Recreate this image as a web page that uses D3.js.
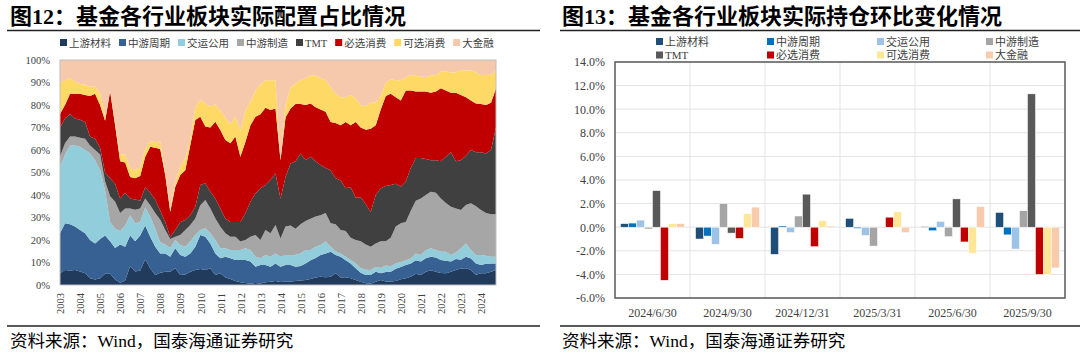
<!DOCTYPE html>
<html lang="zh">
<head>
<meta charset="UTF-8">
<title>基金各行业板块配置</title>
<script src="https://cdn.jsdelivr.net/npm/d3@7"></script>
<style>
    body { margin: 0; background: #fff; }
    svg text { font-family: 'Liberation Serif', 'Noto Sans CJK SC', serif; }
</style>
</head>
<body>
<script>
    var sectors = ['上游材料', '中游周期', '交运公用', '中游制造', 'TMT', '必选消费', '可选消费', '大金融'];
    var years = ['2003', '2004', '2005', '2006', '2007', '2008', '2009', '2010', '2011', '2012', '2013',
        '2014', '2015', '2016', '2017', '2018', '2019', '2020', '2021', '2022', '2023', '2024'];

    // 图12 季度占比 (%), 2003Q4 - 2025Q3
    var upstream = [5.2, 6.7, 6.4, 6.7, 6.0, 5.2, 3.0, 2.5, 3.0, 5.0, 5.0, 2.5, 1.0, 2.0,
        8.5, 6.0, 6.5, 11.5, 7.5, 4.5, 5.5, 5.9, 5.9, 7.4, 4.4, 4.7, 5.9, 6.7, 7.1, 6.7, 7.4, 4.4, 5.2, 3.3, 2.7, 1.8, 1.2, 0.9, 0.6, 0.9, 0.7, 1.2, 1.5, 1.8,
        1.3, 1.5, 1.6, 1.8, 2.0, 2.2, 2.7, 3.3, 3.7, 3.5, 3.7, 5.2, 3.3, 3.5, 3.0, 2.2, 1.5, 0.8, 0.6,
        1.5, 2.2, 1.6, 1.6, 1.8, 2.6, 3.0, 3.7, 5.0, 4.5, 5.9, 6.6, 5.9, 5.3, 5.2, 5.9, 6.7, 7.3, 7.4, 6.7, 4.6, 5.2, 5.2, 5.9, 6.7];
    var midCycle = [17.8, 20.7, 20.6, 19.3, 18.5, 17.8, 17.0, 16.0, 17.5, 17.0, 14.5, 14.0, 17.0, 15.0,
        13.5, 13.5, 15.5, 15.0, 14.0, 12.5, 8.5, 8.1, 6.7, 8.9, 8.9, 7.9, 8.1, 10.3, 15.1, 14.8, 11.1, 9.6, 6.7, 9.3, 9.2, 9.3, 9.9, 10.2, 9.8, 7.2, 8.2, 7.7, 6.6, 7.8,
        6.8, 7.4, 7.3, 6.3, 6.5, 7.4, 8.3, 8.7, 9.6, 10.5, 11.1, 8.1, 9.3, 7.5, 6.6, 5.2, 4.0, 3.7, 3.8,
        4.4, 3.0, 4.2, 4.3, 5.4, 5.4, 5.9, 5.9, 6.0, 5.9, 6.0, 6.0, 6.3, 5.8, 5.6, 4.5, 4.9, 3.9, 5.2, 5.1, 5.0, 3.7, 4.2, 3.7, 2.9];
    var transport = [29.6, 30.6, 35.0, 36.0, 37.0, 37.0, 38.5, 37.0, 30.5, 20.0, 8.5, 8.5, 6.0, 9.5,
        9.0, 8.0, 6.0, 8.0, 9.0, 8.0, 5.0, 4.0, 3.9, 3.7, 4.5, 4.4, 5.3, 5.2, 2.2, 3.7, 4.5, 6.0, 4.4, 3.7, 3.7, 4.5, 4.5, 5.2, 5.2, 4.5, 3.0, 4.4, 4.5, 4.4,
        4.5, 4.4, 4.1, 5.4, 5.5, 6.0, 4.6, 5.0, 4.5, 5.3, 2.2, 1.7, 1.4, 1.6, 1.5, 2.2, 2.1, 2.3, 2.3,
        2.1, 2.4, 2.9, 2.4, 2.4, 2.2, 2.1, 2.2, 3.0, 2.9, 3.6, 3.7, 3.4, 3.7, 4.0, 2.9, 2.9, 5.1, 5.9, 3.8, 3.7, 4.4, 3.6, 3.0, 3.0];
    var midMfg = [4.4, 5.0, 4.0, 4.0, 4.0, 5.0, 3.5, 4.5, 7.0, 4.0, 11.5, 12.0, 8.0, 7.5,
        3.0, 6.0, 6.0, 4.0, 5.0, 7.0, 10.0, 6.4, 4.0, 1.5, 4.4, 7.4, 7.4, 7.4, 11.1, 12.6, 11.0, 9.6, 9.6, 6.7, 5.9, 5.9, 3.7, 3.7, 5.9, 9.6, 8.1, 11.1, 10.4, 12.7,
        8.1, 12.7, 13.5, 11.5, 13.0, 12.9, 13.9, 13.5, 13.2, 12.7, 10.5, 12.0, 10.5, 11.4, 9.9, 10.4, 11.9, 11.2, 10.3,
        10.5, 11.9, 10.8, 12.7, 16.4, 17.2, 17.0, 21.2, 23.5, 25.2, 24.5, 25.2, 25.4, 23.7, 21.7, 21.5, 19.5, 17.0, 17.1, 20.7, 21.7, 20.0, 19.0, 18.8, 18.8];
    var tmt = [13.0, 11.0, 10.0, 8.0, 8.0, 7.5, 4.0, 5.0, 3.0, 4.0, 8.0, 8.0, 6.5, 7.0,
        4.5, 4.5, 3.5, 5.0, 5.5, 6.0, 4.0, 3.6, 1.0, 2.9, 5.8, 4.5, 4.3, 5.2, 8.9, 7.4, 7.5, 8.9, 8.1, 6.6, 6.5, 6.5, 8.7, 11.9, 15.5, 18.5, 23.0, 20.0, 23.7, 22.9,
        17.8, 22.0, 27.5, 30.0, 31.5, 27.1, 27.5, 24.5, 22.3, 20.0, 23.5, 20.5, 22.0, 19.0, 22.5, 18.8, 19.5, 18.0, 15.5,
        21.5, 23.5, 24.5, 23.5, 19.0, 16.3, 18.0, 19.0, 19.0, 18.0, 16.0, 14.0, 14.5, 16.5, 20.5, 24.2, 21.0, 22.2, 21.9, 23.7, 24.0, 25.7, 26.5, 28.6, 38.6];
    var staples = [6.0, 6.0, 9.0, 11.0, 11.5, 12.0, 18.0, 20.0, 19.0, 23.0, 38.5, 26.0, 16.5, 13.5,
        9.5, 9.5, 11.0, 13.5, 20.5, 23.0, 27.5, 20.9, 11.1, 19.3, 20.9, 22.1, 31.2, 38.5, 30.4, 25.2, 28.5, 34.1, 34.9, 34.8, 35.0, 38.0, 29.0, 31.8, 34.0, 34.1, 32.9, 34.4, 31.1, 28.9,
        17.0, 26.5, 24.5, 25.5, 22.0, 24.4, 23.7, 24.0, 24.7, 25.0, 21.5, 24.5, 24.5, 29.5, 27.5, 33.7, 31.0, 33.0, 37.0,
        31.0, 35.0, 40.0, 40.5, 38.5, 38.3, 40.5, 34.5, 29.5, 29.5, 30.0, 30.0, 30.5, 32.5, 29.5, 26.5, 30.5, 29.0, 26.0, 22.0, 21.7, 21.5, 21.5, 21.0, 17.5];
    var discretionary = [14.0, 11.0, 7.0, 5.5, 4.5, 4.5, 4.0, 3.5, 5.0, 2.0, 0.5, 1.5, 3.0, 3.5,
        4.0, 3.5, 4.0, 3.5, 2.5, 2.5, 3.5, 1.1, 1.4, 2.3, 4.1, 5.0, 2.8, 5.7, 7.7, 10.1, 9.3, 7.7, 8.5, 10.1, 8.5, 9.0, 11.5, 14.0, 10.5, 11.5, 13.3, 12.2, 13.2, 12.5,
        0.5, 5.5, 9.5, 9.1, 10.5, 12.0, 12.6, 14.0, 14.0, 14.0, 15.5, 13.0, 12.5, 11.0, 13.4, 10.5, 10.0, 10.5, 11.5,
        10.0, 6.0, 6.0, 6.5, 7.5, 9.0, 6.0, 6.8, 7.0, 6.6, 6.5, 7.5, 7.3, 7.3, 8.5, 9.0, 9.0, 11.1, 11.8, 13.3, 13.8, 12.8, 13.3, 12.5, 8.1];
    var finance = [10.0, 9.0, 8.0, 9.5, 10.5, 11.0, 12.0, 11.5, 15.0, 25.0, 13.5, 27.5, 42.0, 42.0,
        48.0, 49.0, 47.5, 39.5, 36.0, 36.5, 36.0, 50.0, 66.0, 54.0, 47.0, 44.0, 35.0, 21.0, 17.5, 19.5, 20.7, 19.7, 22.6, 25.5, 28.5, 25.0, 31.5, 22.3, 18.5, 13.7, 10.8, 9.0, 9.0, 9.0,
        44.0, 20.0, 12.0, 10.4, 9.0, 8.0, 6.7, 7.0, 8.0, 9.0, 12.0, 15.0, 16.5, 16.5, 15.6, 17.0, 20.0, 20.5, 19.0,
        19.0, 16.0, 10.0, 8.5, 9.0, 9.0, 7.5, 6.7, 7.0, 7.4, 7.5, 7.0, 6.7, 5.2, 5.0, 5.5, 5.5, 4.4, 4.7, 4.7, 5.5, 6.7, 6.7, 6.5, 4.4];

    // 图13 环比变化 (%)
    var periods = ['2024/6/30', '2024/9/30', '2024/12/31', '2025/3/31', '2025/6/30', '2025/9/30'];
    var chgUpstream = [0.3, -1.0, -2.3, 0.75, 0.05, 1.25];
    var chgMidCycle = [0.35, -0.75, 0.1, -0.1, -0.3, -0.65];
    var chgTransport = [0.6, -1.45, -0.45, -0.7, 0.5, -1.85];
    var chgMidMfg = [-0.15, 2.0, 0.95, -1.6, -0.8, 1.4];
    var chgTmt = [3.1, -0.5, 2.8, 0.0, 2.4, 11.3];
    var chgStaples = [-4.5, -0.95, -1.65, 0.85, -1.25, -4.0];
    var chgDiscretionary = [0.3, 1.15, 0.55, 1.3, -2.2, -4.0];
    var chgFinance = [0.3, 1.7, 0.1, -0.45, 1.75, -3.45];

    var areaColors = ['#213b5c', '#376093', '#92cddc', '#a6a6a6', '#404040', '#c00000', '#ffd966', '#f7c9ac'];
    var barColors = ['#1f4e79', '#0070c0', '#9dc3e6', '#a5a5a5', '#595959', '#c00000', '#ffe699', '#f8cbad'];

    var shares = [upstream, midCycle, transport, midMfg, tmt, staples, discretionary, finance];
    var changes = [chgUpstream, chgMidCycle, chgTransport, chgMidMfg, chgTmt, chgStaples, chgDiscretionary, chgFinance];

    // 季度类目
    var quarters = upstream.map(function (d, i) {
        var q = 3 + i;
        return (2003 + Math.floor(q / 4)) + 'Q' + (q % 4 + 1);
    });
    var rows = quarters.map(function (q, i) {
        var r = {q: q};
        sectors.forEach(function (s, k) { r[s] = shares[k][i]; });
        return r;
    });

    var svg = d3.select('body').append('svg')
            .attr('width', 1080)
            .attr('height', 354);

    // ---------- 标题 / 分隔线 / 来源 ----------
    function header(x, title, x1, x2) {
        svg.append('text').attr('x', x).attr('y', 24)
                .attr('font-size', 22).attr('font-weight', 'bold').attr('fill', '#000')
                .text(title);
        svg.append('line').attr('x1', x1).attr('x2', x2).attr('y1', 30.5).attr('y2', 30.5)
                .attr('stroke', '#222').attr('stroke-width', 1.5);
        svg.append('line').attr('x1', x1).attr('x2', x2).attr('y1', 326).attr('y2', 326)
                .attr('stroke', '#222').attr('stroke-width', 1.5);
        svg.append('text').attr('x', x).attr('y', 347)
                .attr('font-size', 17.5).attr('fill', '#000')
                .text('资料来源：Wind，国泰海通证券研究');
    }
    header(10, '图12：基金各行业板块实际配置占比情况', 7, 540);
    header(562, '图13：基金各行业板块实际持仓环比变化情况', 560, 1080);

    // ---------- 图12 堆积面积 ----------
    var L = {left: 60, right: 496, top: 60, bottom: 285};
    var xL = d3.scalePoint().domain(quarters).range([L.left, L.right]);
    var yL = d3.scaleLinear().domain([0, 1]).range([L.bottom, L.top]);

    var stacked = d3.stack().keys(sectors).offset(d3.stackOffsetExpand)(rows);
    var area = d3.area()
            .x(function (d) { return xL(d.data.q); })
            .y0(function (d) { return yL(d[0]); })
            .y1(function (d) { return yL(d[1]); });

    svg.append('g').selectAll('path')
            .data(stacked)
            .enter()
            .append('path')
            .attr('d', area)
            .attr('fill', function (d, i) { return areaColors[i]; });

    svg.append('rect')
            .attr('x', L.left).attr('y', L.top)
            .attr('width', L.right - L.left).attr('height', L.bottom - L.top)
            .attr('fill', 'none').attr('stroke', '#bfbfbf');

    var yAxisL = svg.append('g').attr('transform', 'translate(' + L.left + ',0)')
            .call(d3.axisLeft(yL).tickValues(d3.range(0, 11).map(function (k) { return k / 10; }))
                    .tickFormat(d3.format('.0%')).tickSize(0).tickPadding(10));
    yAxisL.select('.domain').remove();
    yAxisL.selectAll('text').attr('font-size', 10.5).attr('fill', '#404040');

    var yearTicks = quarters.filter(function (d, i) { return i % 4 === 0; });
    var xAxisL = svg.append('g').attr('transform', 'translate(0,' + L.bottom + ')')
            .call(d3.axisBottom(xL).tickValues(yearTicks)
                    .tickFormat(function (d, i) { return years[i]; }).tickSize(0));
    xAxisL.select('.domain').remove();
    xAxisL.selectAll('text')
            .attr('font-size', 10.5).attr('fill', '#404040')
            .attr('transform', 'rotate(-90)')
            .attr('x', -8).attr('y', 0).attr('dy', '0.35em')
            .style('text-anchor', 'end');

    // 图12 图例
    var lx = 60;
    sectors.forEach(function (s, i) {
        svg.append('rect').attr('x', lx).attr('y', 39).attr('width', 7).attr('height', 7)
                .attr('fill', areaColors[i]);
        var t = svg.append('text').attr('x', lx + 9).attr('y', 46.5)
                .attr('font-size', 10.5).attr('fill', '#404040').text(s);
        lx += 9 + t.node().getComputedTextLength() + 8;
    });

    // ---------- 图13 分组柱状 ----------
    var R = {left: 615, right: 1065, top: 62, bottom: 298};
    var xR = d3.scaleBand().domain(periods).range([R.left, R.right]).padding(0);
    var xInner = d3.scaleBand().domain(sectors).range([0, xR.bandwidth()])
            .paddingInner(0).paddingOuter(0.7);
    var yR = d3.scaleLinear().domain([-6, 14]).range([R.bottom, R.top]);

    // 网格
    svg.append('g').selectAll('line.h')
            .data(d3.range(-6, 15, 2))
            .enter()
            .append('line')
            .attr('x1', R.left).attr('x2', R.right)
            .attr('y1', function (d) { return yR(d); })
            .attr('y2', function (d) { return yR(d); })
            .attr('stroke', '#e3e3e3');
    svg.append('g').selectAll('line.v')
            .data(periods.slice(1))
            .enter()
            .append('line')
            .attr('x1', function (d) { return xR(d); })
            .attr('x2', function (d) { return xR(d); })
            .attr('y1', R.top).attr('y2', R.bottom)
            .attr('stroke', '#e3e3e3');

    var groups = svg.append('g').selectAll('g')
            .data(periods)
            .enter()
            .append('g')
            .attr('transform', function (d) { return 'translate(' + xR(d) + ',0)'; });
    groups.selectAll('rect')
            .data(function (p, j) {
                return sectors.map(function (s, k) { return {s: s, k: k, v: changes[k][j]}; });
            })
            .enter()
            .append('rect')
            .attr('x', function (d) { return xInner(d.s); })
            .attr('width', xInner.bandwidth())
            .attr('y', function (d) { return yR(Math.max(0, d.v)); })
            .attr('height', function (d) { return Math.abs(yR(d.v) - yR(0)); })
            .attr('fill', function (d) { return barColors[d.k]; })
            .attr('stroke', '#fff').attr('stroke-width', 0.5);

    svg.append('rect')
            .attr('x', R.left).attr('y', R.top)
            .attr('width', R.right - R.left).attr('height', R.bottom - R.top)
            .attr('fill', 'none').attr('stroke', '#595959').attr('stroke-width', 1.5);

    var yAxisR = svg.append('g').attr('transform', 'translate(' + R.left + ',0)')
            .call(d3.axisLeft(yR).tickValues(d3.range(-6, 15, 2))
                    .tickFormat(function (d) { return d.toFixed(1) + '%'; }).tickSize(0).tickPadding(10));
    yAxisR.select('.domain').remove();
    yAxisR.selectAll('text').attr('font-size', 12).attr('fill', '#404040');

    var xAxisR = svg.append('g').attr('transform', 'translate(0,' + R.bottom + ')')
            .call(d3.axisBottom(xR).tickSize(0).tickPadding(10));
    xAxisR.select('.domain').remove();
    xAxisR.selectAll('text').attr('font-size', 12).attr('fill', '#404040');

    // 图13 图例 (两行四列)
    var legX = [656, 767, 877, 986];
    sectors.forEach(function (s, i) {
        var cx = legX[i % 4], cy = i < 4 ? 41.5 : 55;
        svg.append('rect').attr('x', cx).attr('y', cy - 3.5).attr('width', 7).attr('height', 7)
                .attr('fill', barColors[i]);
        svg.append('text').attr('x', cx + 9).attr('y', cy + 4)
                .attr('font-size', 11).attr('fill', '#404040').text(s);
    });
</script>
</body>
</html>
